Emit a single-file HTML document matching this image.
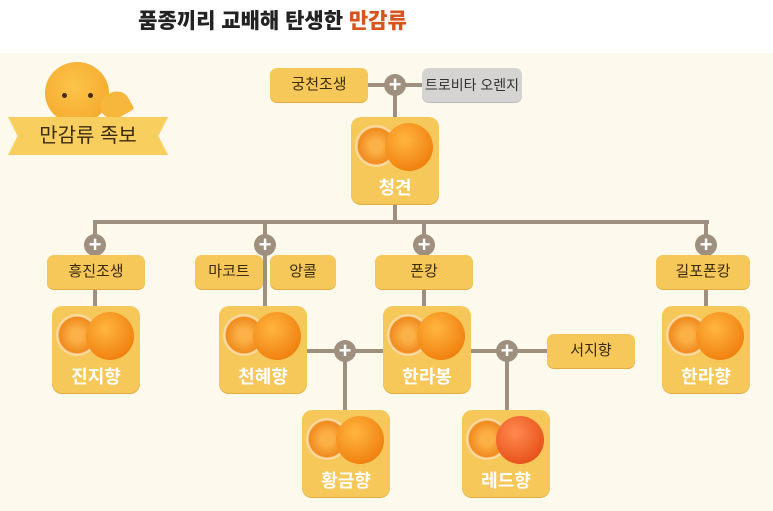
<!DOCTYPE html><html><head><meta charset="utf-8"><style>
body{margin:0;width:773px;height:511px;overflow:hidden;background:#fdf9ec;font-family:"Liberation Sans","Noto Sans CJK KR",sans-serif;position:relative}
.top{position:absolute;left:0;top:0;width:773px;height:53px;background:#fff}
.t{position:absolute;left:0;width:545px;text-align:center;top:5px;font-size:21px;font-weight:900;color:#222;white-space:nowrap}
.a{position:absolute;}
.ln{position:absolute;background:#9e8f7e}
.lb{position:absolute;height:34px;line-height:34px;background:#f6c85a;border-radius:7px;text-align:center;font-size:15px;color:#3a2a10;box-shadow:0 1px 0 #e0ad3e;white-space:nowrap}
.gr{background:#d6d4d2;color:#333;box-shadow:0 1px 0 #bbb;font-size:14px}
.ib{position:absolute;width:88px;height:87px;background:#f6c85a;border-radius:10px;box-shadow:0 1px 0 #e0ad3e}
.ib span{position:absolute;left:0;right:0;bottom:4px;text-align:center;color:#fff;font-size:18px;font-weight:bold}
.s{position:absolute;border-radius:50%;top:8px;width:42px;height:42px;left:4px;background:radial-gradient(circle,#fbb147 20%,#f08a1e 60%,#fcd9a0 64%);}
.o{position:absolute;border-radius:50%;top:6px;width:48px;height:48px;left:34px;background:radial-gradient(circle at 40% 35%,#ffb640,#f28412 70%,#d86a00)}
.pl{position:absolute;width:22px;height:22px;border-radius:50%;background:#9e8f7e;color:#fff;font-size:22px;line-height:21px;text-align:center;font-weight:bold;margin:-11px 0 0 -11px}
</style></head><body>
<div class="top"></div>
<div class="t">품종끼리 교배해 탄생한 <span style="color:#d9531e">만감류</span></div>
<div class="a" style="left:45px;top:62px;width:64px;height:62px;border-radius:50%;background:radial-gradient(circle at 45% 40%,#fcc44a,#f2a326)"></div>
<div class="a" style="left:62px;top:93px;width:5px;height:5px;border-radius:50%;background:#4a2a10"></div>
<div class="a" style="left:88px;top:93px;width:5px;height:5px;border-radius:50%;background:#4a2a10"></div>
<div class="a" style="left:100px;top:92px;width:30px;height:26px;border-radius:50% 50% 10% 50%;background:#f7b73c;transform:rotate(-30deg)"></div>
<div class="a" style="left:8px;top:117px;width:160px;height:38px;background:#f8cf5e;clip-path:polygon(0 0,100% 0,94% 50%,100% 100%,0 100%,6% 50%);text-align:center;line-height:38px;font-size:20px;color:#3a2a10">만감류 족보</div>
<div class="ln" style="left:368px;top:83px;width:55px;height:4px"></div>
<div class="ln" style="left:393px;top:85px;width:4px;height:35px"></div>
<div class="ln" style="left:393px;top:203px;width:4px;height:20px"></div>
<div class="ln" style="left:93px;top:220px;width:616px;height:4px"></div>
<div class="ln" style="left:93px;top:220px;width:4px;height:90px"></div>
<div class="ln" style="left:263px;top:220px;width:4px;height:90px"></div>
<div class="ln" style="left:422px;top:220px;width:4px;height:90px"></div>
<div class="ln" style="left:704px;top:220px;width:4px;height:90px"></div>
<div class="ln" style="left:306px;top:349px;width:80px;height:4px"></div>
<div class="ln" style="left:343px;top:349px;width:4px;height:64px"></div>
<div class="ln" style="left:469px;top:349px;width:80px;height:4px"></div>
<div class="ln" style="left:505px;top:349px;width:4px;height:64px"></div>
<div class="pl" style="left:395px;top:85px">+</div>
<div class="pl" style="left:95px;top:245px">+</div>
<div class="pl" style="left:265px;top:245px">+</div>
<div class="pl" style="left:424px;top:245px">+</div>
<div class="pl" style="left:706px;top:245px">+</div>
<div class="pl" style="left:345px;top:351px">+</div>
<div class="pl" style="left:507px;top:351px">+</div>
<div class="lb" style="left:270px;top:68px;width:98px">궁천조생</div>
<div class="lb gr" style="left:422px;top:68px;width:100px">트로비타 오렌지</div>
<div class="lb" style="left:47px;top:255px;width:98px">흥진조생</div>
<div class="lb" style="left:195px;top:255px;width:68px">마코트</div>
<div class="lb" style="left:270px;top:255px;width:66px">앙콜</div>
<div class="lb" style="left:375px;top:255px;width:98px">폰캉</div>
<div class="lb" style="left:656px;top:255px;width:94px">길포폰캉</div>
<div class="lb" style="left:547px;top:334px;width:88px">서지향</div>
<div class="ib" style="left:351px;top:117px"><div class="s"></div><div class="o"></div><span>청견</span></div>
<div class="ib" style="left:52px;top:306px"><div class="s"></div><div class="o"></div><span>진지향</span></div>
<div class="ib" style="left:219px;top:306px"><div class="s"></div><div class="o"></div><span>천혜향</span></div>
<div class="ib" style="left:383px;top:306px"><div class="s"></div><div class="o"></div><span>한라봉</span></div>
<div class="ib" style="left:662px;top:306px"><div class="s"></div><div class="o"></div><span>한라향</span></div>
<div class="ib" style="left:302px;top:410px"><div class="s"></div><div class="o"></div><span>황금향</span></div>
<div class="ib" style="left:462px;top:410px"><div class="s"></div><div class="o" style="background:radial-gradient(circle at 40% 35%,#ff8a50,#e9561e 70%,#c84410)"></div><span>레드향</span></div>
</body></html>
